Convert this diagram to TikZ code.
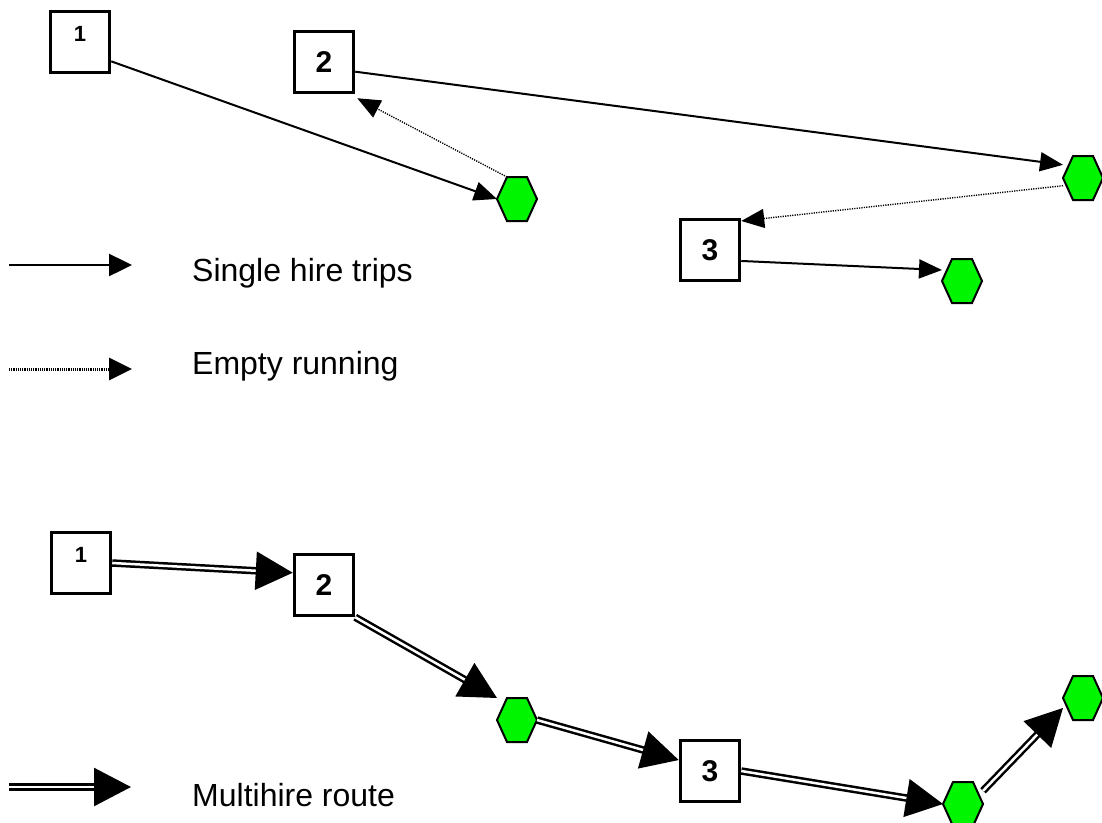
\documentclass[tikz,border=0pt]{standalone}
\usepackage{fontspec}
\setmainfont{Liberation Sans}
\usetikzlibrary{arrows.meta,calc}
\definecolor{hexgreen}{RGB}{0,245,0}
\tikzset{
  box/.style={draw, line width=3.5pt, minimum width=59pt, minimum height=61pt, inner sep=0pt, font=\bfseries\fontsize{30pt}{30pt}\selectfont},
  smallnum/.style={font=\bfseries\fontsize{22pt}{22pt}\selectfont, text depth=16pt},
  hexline/.style={draw=black, fill=hexgreen, line width=2pt, line join=miter},
  hex/.style={minimum width=40pt, minimum height=44pt, inner sep=0pt, outer sep=0pt,
    append after command={\pgfextra{\filldraw[hexline] (\tikzlastnode.west)
      -- ($(\tikzlastnode.north west)!.25!(\tikzlastnode.north east)$)
      -- ($(\tikzlastnode.north west)!.75!(\tikzlastnode.north east)$)
      -- (\tikzlastnode.east)
      -- ($(\tikzlastnode.south west)!.75!(\tikzlastnode.south east)$)
      -- ($(\tikzlastnode.south west)!.25!(\tikzlastnode.south east)$) -- cycle;}}},
  thinarrow/.style={line width=2pt, -{Triangle[length=23pt,width=19pt]}},
  dotarrow/.style={line width=1.4pt, dash pattern=on 1.2pt off 1.2pt, -{Triangle[length=23pt,width=19pt]}},
  legarrow/.style={line width=2.5pt, -{Triangle[length=23pt,width=22pt]}},
  legdot/.style={line width=3pt, dash pattern=on 1.2pt off 1pt, -{Triangle[length=23pt,width=22pt]}},
  dbl/.style={double, line width=2.5pt, double distance=2.5pt, -{Triangle[length=37pt,width=38pt]}},
  legtext/.style={anchor=west, inner sep=0pt, font=\fontsize{32pt}{36pt}\selectfont}
}
\begin{document}
\begin{tikzpicture}[x=1pt,y=-1pt]
\useasboundingbox (0,0) rectangle (1102,822);
% top part
\node[box, smallnum] (b1t) at (80,42) {1};
\node[box] (b2t) at (324,62) {2};
\node[box] (b3t) at (710,250) {3};
\node[hex] (hA) at (517,199) {};
\node[hex] (hB) at (1083,178) {};
\node[hex] (hC) at (962,281) {};
\draw[thinarrow] ($(b1t.north east)!0.8!(b1t.south east)$) -- (hA.west);
\draw[thinarrow] ($(b2t.north east)!0.65!(b2t.south east)$) -- ($(hB.west)!0.6!(hB.north west)$);
\draw[dotarrow] ($(hA.north west)!0.25!(hA.north east)$) -- ([shift={(2pt,-4pt)}]b2t.south east);
\draw[dotarrow] ($(hB.west)!0.35!(hB.south west)$) -- ($(b3t.north east)!0.05!(b3t.south east)$);
\draw[thinarrow] ($(b3t.north east)!0.67!(b3t.south east)$) -- ($(hC.west)!0.5!(hC.north west)$);
% legend
\coordinate (l1s) at (9,265);
\coordinate (l1e) at (132,265);
\draw[legarrow] (l1s) -- (l1e);
\node[legtext] (t1) at (192,273) {Single hire trips};
\coordinate (l2s) at (9,369);
\coordinate (l2e) at (132,369);
\draw[legdot] (l2s) -- (l2e);
\node[legtext] (t2) at (192,366) {Empty running};
\coordinate (l3s) at (9,787);
\coordinate (l3e) at (131,787);
\draw[dbl] (l3s) -- (l3e);
\node[legtext] (t3) at (192,795) {Multihire route};
% bottom part
\node[box, smallnum] (b1b) at (81,563) {1};
\node[box] (b2b) at (324,585) {2};
\node[box] (b3b) at (710,771) {3};
\node[hex] (hD) at (517,720) {};
\node[hex] (hE) at (963,804) {};
\node[hex] (hF) at (1083,698) {};
\draw[dbl] (b1b.east) -- ($(b2b.north west)!0.31!(b2b.south west)$);
\draw[dbl] (b2b.south east) -- (hD.north west);
\draw[dbl] (hD.east) -- ($(b3b.north west)!0.33!(b3b.south west)$);
\draw[dbl] (b3b.east) -- (hE.west);
\draw[dbl] ($(hE.east)!0.6!(hE.north east)$) -- ($(hF.west)!0.45!(hF.south west)$);
\end{tikzpicture}
\end{document}
